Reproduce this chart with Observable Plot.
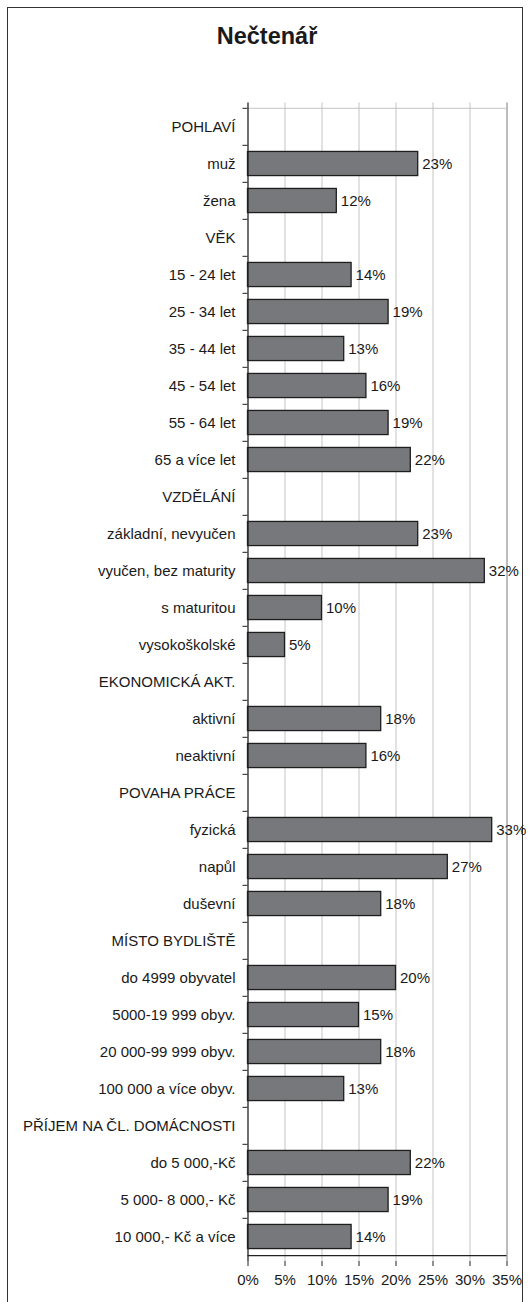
<!DOCTYPE html>
<html>
<head>
<meta charset="utf-8">
<script src="https://cdn.jsdelivr.net/npm/d3@7"></script>
<script src="https://cdn.jsdelivr.net/npm/@observablehq/plot@0.6"></script>
<style>
  html, body { margin: 0; padding: 0; background: #fff; }
  #wrap { position: relative; width: 530px; height: 1302px; overflow: hidden; font-family: "Liberation Sans", Arial, sans-serif; }
  #border { position: absolute; left: 7px; top: 7px; width: 516px; height: 1400px; box-sizing: border-box; border: 1px solid #333; }
  #title { position: absolute; left: 0; width: 534px; top: 25px; text-align: center; font-weight: bold; font-size: 23.5px; line-height: 23px; color: #1a1a1a; }
  #chart { position: absolute; left: 0; top: 0; }
</style>
</head>
<body>
<div id="wrap">
  <div id="border"></div>
  <div id="title">Nečtenář</div>
  <div id="chart"></div>
</div>
<script>
const categories = ["POHLAVÍ","muž","žena","VĚK","15 - 24 let","25 - 34 let","35 - 44 let","45 - 54 let","55 - 64 let","65 a více let","VZDĚLÁNÍ","základní, nevyučen","vyučen, bez maturity","s maturitou","vysokoškolské","EKONOMICKÁ AKT.","aktivní","neaktivní","POVAHA PRÁCE","fyzická","napůl","duševní","MÍSTO BYDLIŠTĚ","do 4999 obyvatel","5000-19 999 obyv.","20 000-99 999 obyv.","100 000 a více obyv.","PŘÍJEM NA ČL. DOMÁCNOSTI","do 5 000,-Kč","5 000- 8 000,- Kč","10 000,- Kč a více"];
const values = [null,23,12,null,14,19,13,16,19,22,null,23,32,10,5,null,18,16,null,33,27,18,null,20,15,18,13,null,22,19,14];
const xTicks = [0,5,10,15,20,25,30,35];

const data = categories.map((c, i) => ({cat: c, value: values[i]})).filter(d => d.value != null);

const W = 530, H = 1302, mt = 102.5, mb = 41, ml = 247.5, mr = 23.5;
const step = (H - mt - mb) / categories.length;
const barInset = (step - 24.5) / 2;
const font = "'Liberation Sans', Arial, sans-serif";

const chart = Plot.plot({
  width: W,
  height: H,
  marginTop: mt,
  marginBottom: mb,
  marginLeft: ml,
  marginRight: mr,
  style: {fontFamily: font, fontSize: "15px", color: "#1a1a1a", background: "transparent", overflow: "visible"},
  x: {domain: [xTicks[0], xTicks[xTicks.length - 1]], label: null},
  y: {domain: categories, padding: 0, label: null},
  marks: [
    Plot.gridX(xTicks.slice(1, -1), {stroke: "#c4c4c4", strokeOpacity: 1}),
    Plot.ruleX(xTicks.slice(-1), {stroke: "#a6a6a6", strokeWidth: 1.5}),
    Plot.ruleY(categories.slice(0, 1), {dy: -step / 2, stroke: "#c4c4c4"}),
    Plot.barX(data, {x: "value", y: "cat", fill: "#77787b", stroke: "#1e1e1e", strokeWidth: 1.3, insetTop: barInset, insetBottom: barInset}),
    Plot.text(data, {x: "value", y: "cat", text: d => d.value + "%", textAnchor: "start", dx: 4, fontSize: 15, fill: "#1a1a1a"}),
    Plot.ruleX(xTicks.slice(0, 1), {stroke: "#222", strokeWidth: 1.3}),
    Plot.ruleY(categories.slice(-1), {dy: step / 2, stroke: "#222", strokeWidth: 1.3}),
    Plot.axisY({tickSize: 0, tickPadding: 12.5, fontSize: 15, fill: "#1a1a1a", label: null}),
    Plot.axisY({tickSize: 5, tickFormat: () => "", dy: -step / 2, stroke: "#222", label: null}),
    Plot.axisX({ticks: xTicks, tickFormat: d => d + "%", tickSize: 5, tickPadding: 8, fontSize: 15, fill: "#1a1a1a", stroke: "#222", label: null})
  ]
});
document.getElementById("chart").appendChild(chart);
</script>
</body>
</html>
